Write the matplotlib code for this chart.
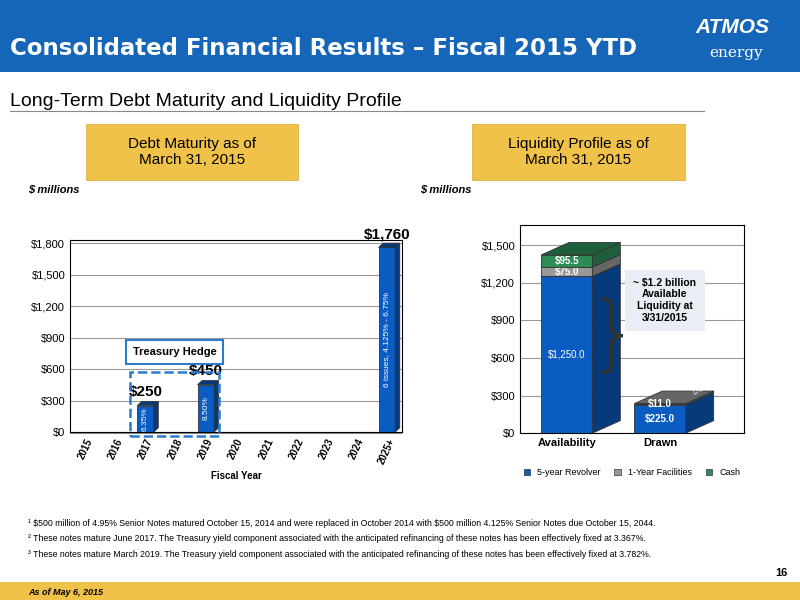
import numpy as np
from matplotlib import pyplot as plt
from matplotlib.patches import Rectangle, Polygon

plt.rcParams['text.parse_math'] = False
plt.rcParams['font.family'] = ['Liberation Sans', 'DejaVu Sans']

# data
years = ['2015', '2016', '2017', '2018', '2019', '2020', '2021', '2022', '2023', '2024', '2025+']
maturity = [0, 0, 250, 0, 450, 0, 0, 0, 0, 0, 1760]
bar_notes = {2: '6.35%', 4: '8.50%', 10: '6 issues, 4.125% - 6.75%'}
liq_cats = ['Availability', 'Drawn']
revolver = [1250.0, 225.0]
facilities = [75.0, 11.0]
cash = [95.5, 0.0]

BLUE = '#0a5cc2'
DARK = '#073a7a'


def bar3d(ax, x, y0, h, w, color, side, dx, dy):
    ax.add_patch(Rectangle((x - w / 2, y0), w, h, fc=color, ec='#333333', lw=0.6, zorder=3))
    xr = x + w / 2
    ax.add_patch(Polygon([(xr, y0), (xr + dx, y0 + dy), (xr + dx, y0 + h + dy), (xr, y0 + h)],
                         fc=side, ec='#333333', lw=0.6, zorder=3))
    ax.add_patch(Polygon([(x - w / 2, y0 + h), (x - w / 2 + dx, y0 + h + dy), (xr + dx, y0 + h + dy), (xr, y0 + h)],
                         fc=side, ec='#333333', lw=0.6, zorder=3))


fig = plt.figure(figsize=(8, 6), dpi=100)

# header
fig.patches.append(Rectangle((0, 0.88), 1, 0.12, transform=fig.transFigure, fc='#1565b8', zorder=0))
fig.text(0.012, 0.908, 'Consolidated Financial Results \u2013 Fiscal 2015 YTD', color='white',
         fontsize=16.5, fontweight='bold', family='DejaVu Sans')
fig.text(0.915, 0.945, 'ATMOS', color='white', fontsize=15, fontweight='bold', style='italic', ha='center')
fig.text(0.92, 0.905, 'energy', color='white', fontsize=11, family='DejaVu Serif', ha='center')
fig.text(0.012, 0.823, 'Long-Term Debt Maturity and Liquidity Profile', fontsize=14)
fig.add_artist(plt.Line2D([0.012, 0.88], [0.815, 0.815], color='#888888', lw=0.8))

# gold boxes
for cx, txt in [(0.24, 'Debt Maturity as of\nMarch 31, 2015'), (0.723, 'Liquidity Profile as of\nMarch 31, 2015')]:
    fig.patches.append(Rectangle((cx - 0.133, 0.70), 0.266, 0.093, transform=fig.transFigure,
                                 fc='#f0c24a', ec='#d8a830', lw=0.5))
    fig.text(cx, 0.746, txt, ha='center', va='center', fontsize=11)
fig.text(0.035, 0.68, '$ millions', fontsize=8, fontweight='bold', style='italic')
fig.text(0.525, 0.68, '$ millions', fontsize=8, fontweight='bold', style='italic')

# left chart
ax = fig.add_axes([0.0875, 0.28, 0.415, 0.32])
x = np.arange(len(years))
for i, v in enumerate(maturity):
    if v > 0:
        bar3d(ax, i, 0, v, 0.55, BLUE, DARK, 0.15, 40)
        ax.text(i, v + 60, '$' + format(v, ','), ha='center', va='bottom', fontsize=11, fontweight='bold')
for i, s in bar_notes.items():
    ax.text(i, maturity[i] / 2, s, rotation=90, ha='center', va='center', color='white', fontsize=6)
ax.set_xlim(-0.5, 10.5)
ax.set_ylim(0, 1830)
ax.set_yticks(np.arange(0, 1801, 300))
ax.set_yticklabels(['$' + format(v, ',') for v in range(0, 1801, 300)], fontsize=8)
ax.set_xticks(x)
ax.set_xticklabels(years, rotation=65, fontsize=7, fontweight='bold')
ax.grid(axis='y', color='#999999', lw=0.8)
ax.set_axisbelow(True)
ax.tick_params(length=0)
ax.add_patch(Rectangle((-0.5, -20), 11, 20, fc='#888888', clip_on=False, zorder=2))
ax.set_xlabel('Fiscal Year', fontsize=7, fontweight='bold')
ax.add_patch(Rectangle((1.5, -40), 2.95, 610, fill=False, ec='#2a7ad0', ls='--', lw=1.8, clip_on=False, zorder=4))
ax.text(2.97, 760, 'Treasury Hedge', ha='center', va='center', fontsize=8, fontweight='bold',
        bbox=dict(fc='white', ec='#2a7ad0', lw=1.5, pad=5))

# right chart
ax2 = fig.add_axes([0.65, 0.278, 0.28, 0.347])
xs = np.arange(len(liq_cats))
colors = [(BLUE, DARK), ('#999999', '#666666'), ('#2e8b57', '#1e5e3a')]
for i in xs:
    bottom = 0
    for vals, (c, sc) in zip([revolver, facilities, cash], colors):
        v = vals[i]
        if v > 0:
            bar3d(ax2, i, bottom, v, 0.55, c, sc, 0.3, 100)
            ax2.text(i, bottom + v / 2, f'${v:,.1f}', ha='center', va='center', color='white', fontsize=7,
                     fontweight='bold' if v < 1000 else 'normal')
            bottom += v
ax2.text(1.42, 310, 'L/C', rotation=30, color='white', fontsize=5.5, ha='center')
ax2.set_xlim(-0.5, 1.9)
ax2.set_ylim(0, 1660)
ax2.set_yticks(np.arange(0, 1501, 300))
ax2.set_yticklabels(['$' + format(v, ',') for v in range(0, 1501, 300)], fontsize=8)
ax2.set_xticks(xs)
ax2.set_xticklabels(liq_cats, fontsize=8, fontweight='bold')
ax2.grid(axis='y', color='#999999', lw=0.8)
ax2.set_axisbelow(True)
ax2.tick_params(length=0)
ax2.text(1.05, 1060, '~ $1.2 billion\nAvailable\nLiquidity at\n3/31/2015', ha='center', va='center',
         fontsize=7.5, fontweight='bold', bbox=dict(fc='#e8eef3', ec='none', pad=6))
ax2.text(0.5, 760, '}', fontsize=60, ha='center', va='center', family='DejaVu Sans', fontweight='ultralight',
         transform=ax2.transData, color='#333333')
h = [Rectangle((0, 0), 1, 1, fc=c, ec='#333333', lw=0.5) for c, _ in colors]
ax2.legend(h, ['5-year Revolver', '1-Year Facilities', 'Cash'], loc='upper center', bbox_to_anchor=(0.5, -0.13),
           ncol=3, frameon=False, fontsize=6.5, handlelength=0.7, handleheight=0.7, columnspacing=1.5)

# footnotes
notes = ['\u00b9 $500 million of 4.95% Senior Notes matured October 15, 2014 and were replaced in October 2014 with $500 million 4.125% Senior Notes due October 15, 2044.',
         '\u00b2 These notes mature June 2017. The Treasury yield component associated with the anticipated refinancing of these notes has been effectively fixed at 3.367%.',
         '\u00b3 These notes mature March 2019. The Treasury yield component associated with the anticipated refinancing of these notes has been effectively fixed at 3.782%.']
for k, n in enumerate(notes):
    fig.text(0.035, 0.124 - k * 0.026, n, fontsize=6.3)
fig.text(0.985, 0.04, '16', fontsize=8, fontweight='bold', ha='right')
fig.patches.append(Rectangle((0, 0), 1, 0.03, transform=fig.transFigure, fc='#f0c24a'))
fig.text(0.035, 0.008, 'As of May 6, 2015', fontsize=6.5, fontweight='bold', style='italic')

fig.savefig('out.png', dpi=100)
